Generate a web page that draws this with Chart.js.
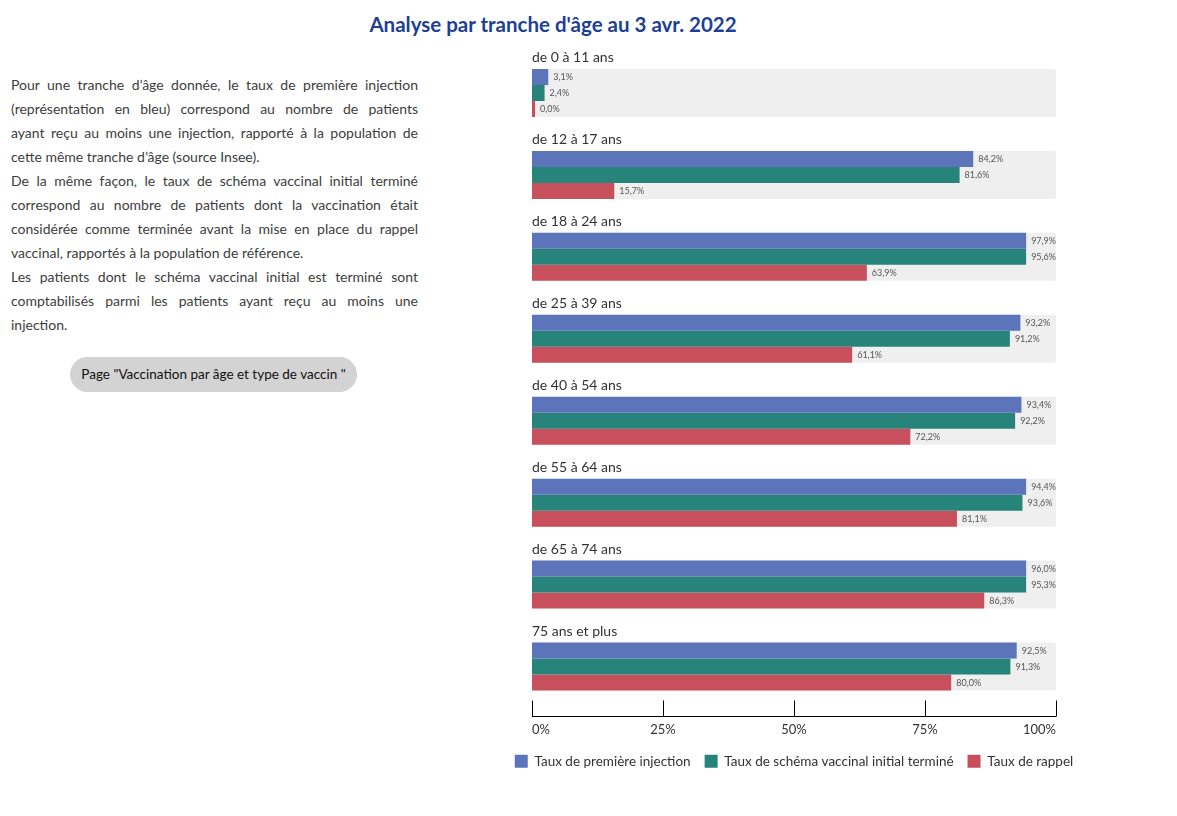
<!DOCTYPE html>
<html lang="fr">
<head>
<meta charset="utf-8">
<title>Analyse par tranche d'âge au 3 avr. 2022</title>
<script src="https://cdn.jsdelivr.net/npm/chart.js@4.4.1/dist/chart.umd.min.js"></script>
<style>
  html, body { margin:0; padding:0; background:#fff; }
  body { width:1177px; height:816px; position:relative; overflow:hidden; font-family:Lato, "Open Sans", sans-serif; color:#3d3d3d; }
  h1 { position:absolute; left:0; top:12px; width:1106px; margin:0; text-align:center; font-size:20.5px; font-weight:700; color:#1d3f95; }
  .intro { position:absolute; left:11px; top:73px; width:407px; font-size:14px; line-height:24px; }
  .intro div { white-space:nowrap; text-align:justify; text-align-last:justify; }
  .intro div.end { text-align-last:left; }
  .btn { position:absolute; left:70px; top:357px; width:287px; height:35px; border-radius:18px; background:#d3d3d3; color:#111; font-size:13.5px; line-height:35px; text-align:center; }
  #wrap { position:absolute; left:488px; top:0; width:612px; height:778px; }
</style>
</head>
<body>
<h1>Analyse par tranche d'âge au 3 avr. 2022</h1>

<div class="intro">
  <div>Pour une tranche d’âge donnée, le taux de première injection</div>
  <div>(représentation en bleu) correspond au nombre de patients</div>
  <div>ayant reçu au moins une injection, rapporté à la population de</div>
  <div class="end">cette même tranche d’âge (source Insee).</div>
  <div>De la même façon, le taux de schéma vaccinal initial terminé</div>
  <div>correspond au nombre de patients dont la vaccination était</div>
  <div>considérée comme terminée avant la mise en place du rappel</div>
  <div class="end">vaccinal, rapportés à la population de référence.</div>
  <div>Les patients dont le schéma vaccinal initial est terminé sont</div>
  <div>comptabilisés parmi les patients ayant reçu au moins une</div>
  <div class="end">injection.</div>
</div>
<div class="btn">Page "Vaccination par âge et type de vaccin "</div>

<div id="wrap"><canvas id="ageChart"></canvas></div>

<script>
// tranches d'âge et taux (%)
const ageGroups = ['de 0 à 11 ans', 'de 12 à 17 ans', 'de 18 à 24 ans', 'de 25 à 39 ans',
                   'de 40 à 54 ans', 'de 55 à 64 ans', 'de 65 à 74 ans', '75 ans et plus'];
const firstDose    = [3.1, 84.2, 97.9, 93.2, 93.4, 94.4, 96.0, 92.5];
const fullSchedule = [2.4, 81.6, 95.6, 91.2, 92.2, 93.6, 95.3, 91.3];
const booster      = [0.0, 15.7, 63.9, 61.1, 72.2, 81.1, 86.3, 80.0];
const seriesNames  = ['Taux de première injection', 'Taux de schéma vaccinal initial terminé', 'Taux de rappel'];
const xTicks = [0, 25, 50, 75, 100];

// the original caps long bars so their label stays inside the grey band
const BAR_CAP = 94.3;
const COLORS = ['#5c74b9', '#27847a', '#c8505c'];
const FONT = 'Lato, "Open Sans", sans-serif';

const fmt = v => v.toFixed(1).replace('.', ',') + '%';

const series = [firstDose, fullSchedule, booster];
const datasets = series.map((vals, i) => ({
  label: seriesNames[i],
  data: vals.map(v => Math.min(v, BAR_CAP)),
  values: vals,
  backgroundColor: COLORS[i],
  borderWidth: 0,
  minBarLength: 3,
  categoryPercentage: 48 / 82,
  barPercentage: 1
}));

// grey bands, group titles, value labels and the axis line with inner ticks
const groupDecor = {
  id: 'groupDecor',
  beforeDatasetsDraw(chart) {
    const { ctx, scales: { x } } = chart;
    const top = chart.getDatasetMeta(0).data, bot = chart.getDatasetMeta(2).data;
    const left = x.getPixelForValue(0), right = x.getPixelForValue(100);
    ctx.save();
    ageGroups.forEach((label, i) => {
      const y0 = top[i].y - top[i].height / 2, y1 = bot[i].y + bot[i].height / 2;
      ctx.fillStyle = '#efefef';
      ctx.beginPath(); ctx.roundRect(left, y0, right - left, y1 - y0, 2); ctx.fill();
      ctx.fillStyle = '#333';
      ctx.font = '14px ' + FONT;
      ctx.textBaseline = 'alphabetic';
      ctx.fillText(label, left, y0 - 7);
    });
    ctx.restore();
  },
  afterDatasetsDraw(chart) {
    const { ctx, chartArea, scales: { x } } = chart;
    ctx.save();
    ctx.font = '9px ' + FONT;
    ctx.fillStyle = '#555';
    ctx.textBaseline = 'middle';
    chart.data.datasets.forEach((ds, d) => {
      chart.getDatasetMeta(d).data.forEach((bar, i) => {
        ctx.fillText(fmt(ds.values[i]), bar.x + 5, bar.y + 0.5);
      });
    });
    const ay = Math.round(chartArea.bottom + 8) + 0.5;
    ctx.strokeStyle = '#000';
    ctx.lineWidth = 1;
    ctx.beginPath();
    ctx.moveTo(x.getPixelForValue(0), ay); ctx.lineTo(x.getPixelForValue(100), ay);
    xTicks.forEach(t => {
      const px = Math.round(x.getPixelForValue(t)) + 0.5;
      ctx.moveTo(px, ay - 16); ctx.lineTo(px, ay);
    });
    ctx.stroke();
    ctx.restore();
  }
};

const sideAxis = (position) => ({
  type: 'category', position, offset: true,
  grid: { display: false }, border: { display: false }, ticks: { display: false },
  afterFit: s => { s.width = 44; }
});

new Chart(document.getElementById('ageChart'), {
  type: 'bar',
  data: { labels: ageGroups, datasets },
  options: {
    indexAxis: 'y',
    responsive: true,
    maintainAspectRatio: false,
    animation: false,
    layout: { padding: { top: 52, left: 0, right: 0, bottom: 0 } },
    scales: {
      x: {
        min: 0, max: 100,
        afterBuildTicks: s => { s.ticks = xTicks.map(v => ({ value: v })); },
        afterFit: s => { s.height = 33; },
        grid: { display: false },
        border: { display: false },
        ticks: { callback: v => v + '%', align: 'inner', padding: 7, color: '#333', font: { family: FONT, size: 13 } }
      },
      y: sideAxis('left'),
      yRight: sideAxis('right')
    },
    plugins: {
      legend: {
        position: 'bottom',
        labels: { boxWidth: 13, boxHeight: 13, padding: 14, color: '#333', font: { family: FONT, size: 13.5 } }
      },
      tooltip: {
        callbacks: { label: c => c.dataset.label + ' : ' + fmt(c.dataset.values[c.dataIndex]) }
      }
    }
  },
  plugins: [groupDecor]
});
</script>
</body>
</html>
